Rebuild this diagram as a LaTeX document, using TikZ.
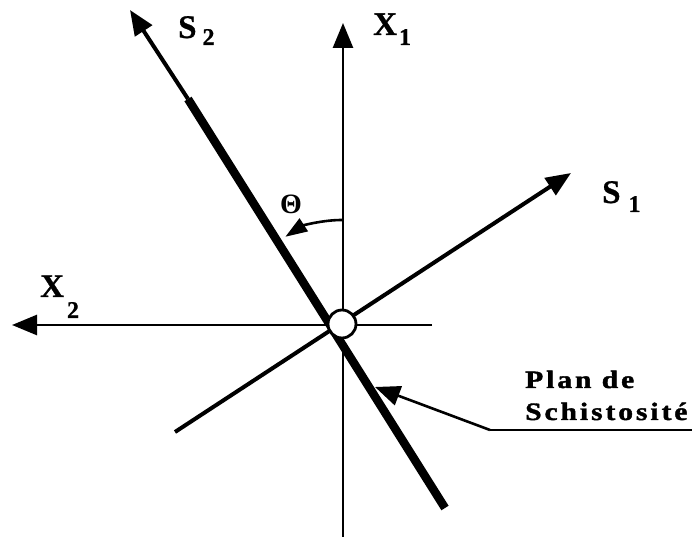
\documentclass[tikz,border=0pt]{standalone}
\usepackage{fontspec}
\setmainfont{Liberation Serif}
\usetikzlibrary{arrows.meta}
\newcommand\lowsub[2]{\raisebox{-#1}{\fontsize{24}{24}\selectfont #2}}
\newcommand\widetext[1]{\scalebox{1.18}[1]{#1}}
\begin{document}
\begin{tikzpicture}[x=1pt,y=1pt,
  axisline/.style={line width=2.6pt},
  bigtip/.style={-{Triangle[length=25pt,width=20pt]}},
  smalltip/.style={-{Triangle[length=22pt,width=15pt]}},
  lbl/.style={inner sep=0pt, anchor=base west, font=\bfseries\fontsize{33}{33}\selectfont\addfontfeature{FakeBold=0.8}},
  txt/.style={inner sep=0pt, anchor=base west, font=\bfseries\fontsize{25}{28}\selectfont\addfontfeature{LetterSpace=10,FakeBold=1.5}}]
\useasboundingbox (0,0) rectangle (692,537);
% key points
\coordinate (O) at (342,213);
\coordinate (X1b) at (343,0);
\coordinate (X1t) at (343,514);
\coordinate (X2r) at (432,212);
\coordinate (X2l) at (12,212);
\coordinate (S1a) at (175,105);
\coordinate (S1b) at (571,364);
\coordinate (S2t) at (130,527);
\coordinate (S2m) at (188,438);
\coordinate (S2e) at (445,29);
\coordinate (Th0) at (342,317);
\coordinate (P1) at (692,107);
\coordinate (P2) at (490,107);
\coordinate (P3) at (375,150);
% axes
\draw[axisline,bigtip] (X1b) -- (X1t);
\draw[axisline,bigtip] (X2r) -- (X2l);
% S1
\draw[line width=4pt,bigtip] (S1a) -- (S1b);
% S2
\draw[line width=4pt,bigtip] (S2m) -- (S2t);
\draw[line width=8.5pt] (S2m) -- (S2e);
% origin circle
\node[circle, draw, line width=2.8pt, fill=white, minimum size=28pt, inner sep=0pt] (C) at (O) {};
% theta
\draw[axisline,smalltip] (Th0) arc[start angle=90, end angle=123, radius=104];
\node[inner sep=0pt, font=\bfseries\fontsize{28}{28}\selectfont] (th) at (291,333) {Θ};
% labels
\node[lbl] (lS2) at (178,499) {S\hspace{6pt}\lowsub{7pt}{2}};
\node[lbl] (lX1) at (373,502) {X\hspace{2pt}\lowsub{10pt}{1}};
\node[lbl] (lS1) at (602,334) {S\hspace{8pt}\lowsub{9pt}{1}};
\node[lbl] (lX2) at (40,240) {X\hspace{3pt}\lowsub{21pt}{2}};
% Plan de schistosite
\node[txt] (plan) at (525,149) {\widetext{Plan de}};
\node[txt] (schist) at (525,117) {\widetext{Schistosité}};
\draw[axisline] (P1) -- (P2);
\draw[axisline,bigtip] (P2) -- (P3);
\end{tikzpicture}
\end{document}
